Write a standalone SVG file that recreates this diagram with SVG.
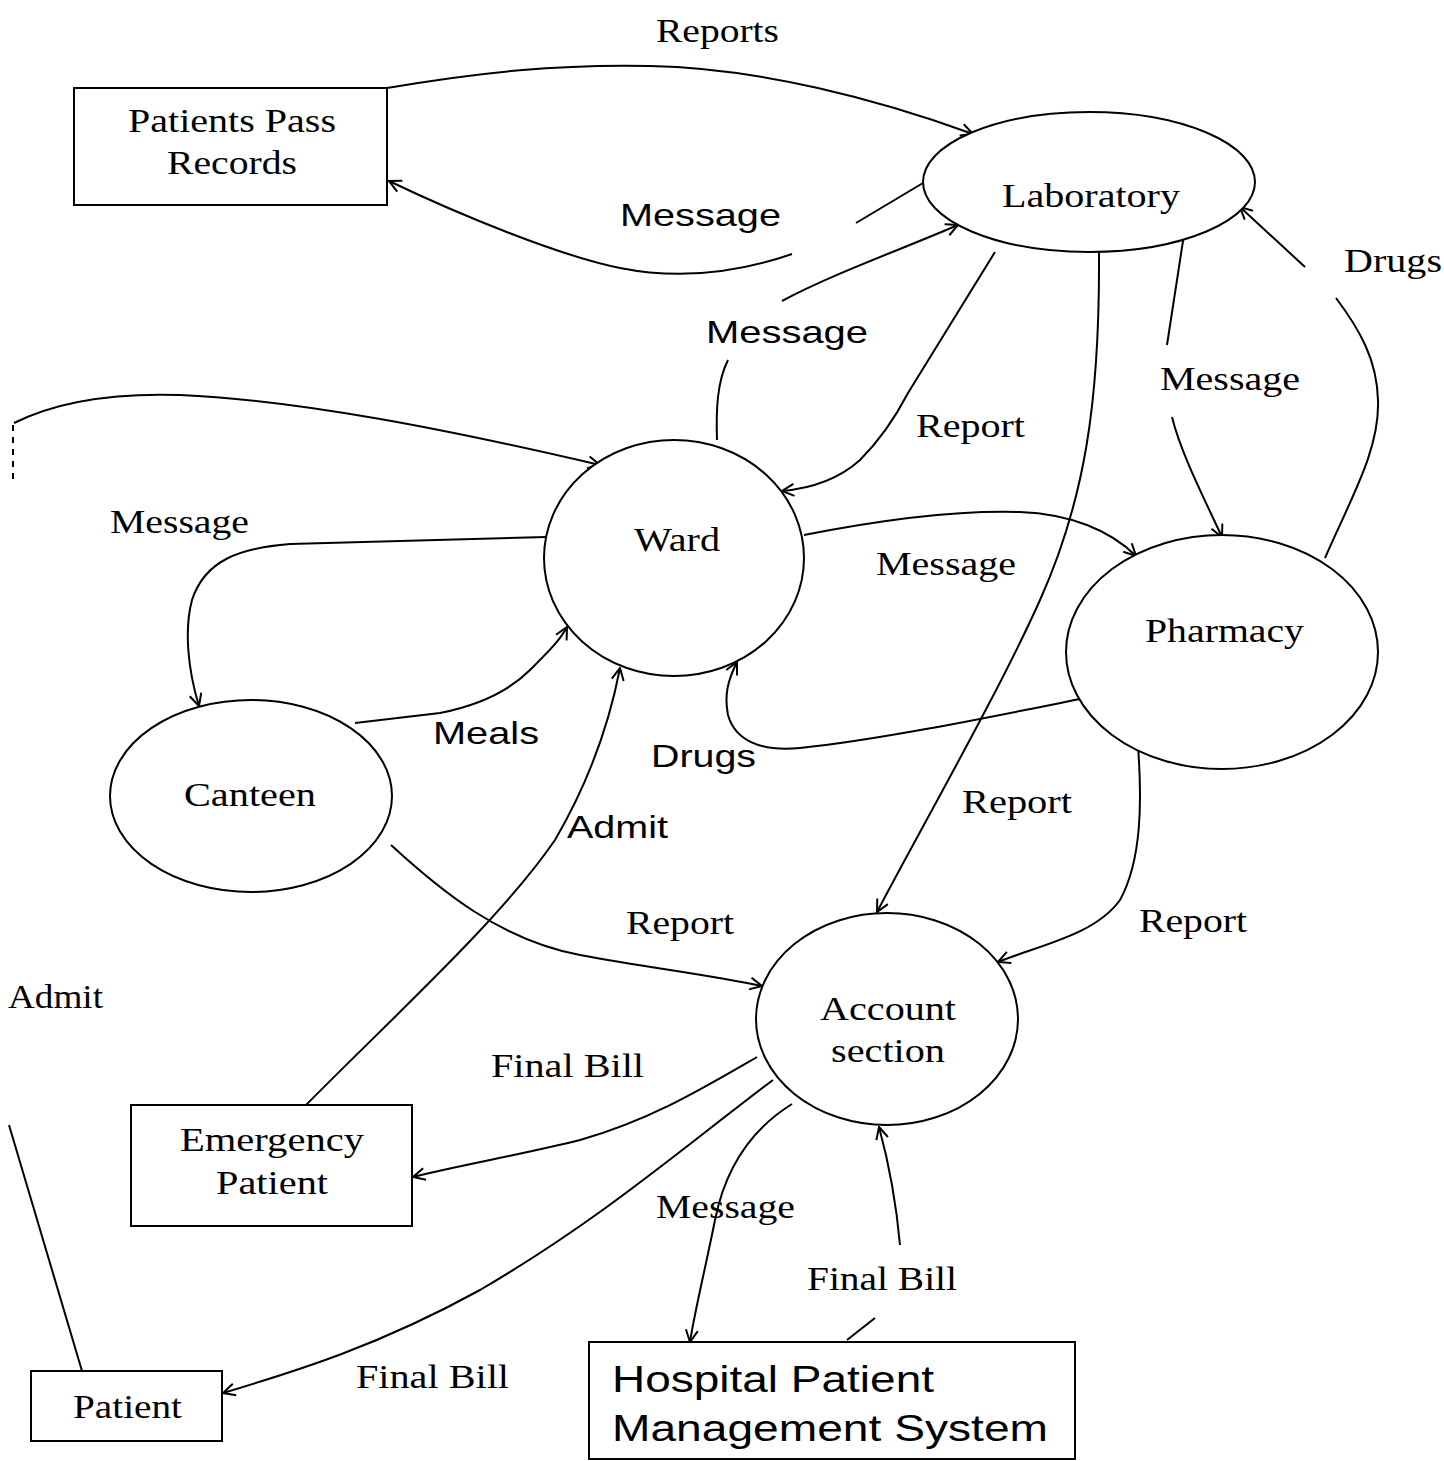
<svg xmlns="http://www.w3.org/2000/svg" width="1444" height="1461" viewBox="0 0 1444 1461">
<style>
.bg{fill:#fff}
.shape{fill:#fff;stroke:#000;stroke-width:2}
.conn path{fill:none;stroke:#000;stroke-width:2}
.serif{font-family:"Liberation Serif","Times New Roman",serif;font-size:34px;fill:#000}
.sans{font-family:"Liberation Sans",Arial,sans-serif;font-size:32px;fill:#000}
.big{font-family:"Liberation Sans",Arial,sans-serif;font-size:37px;fill:#000}
</style>
<defs>
<marker id="arr" viewBox="0 0 14 14" refX="13" refY="7" markerWidth="14" markerHeight="14" markerUnits="userSpaceOnUse" orient="auto">
<path d="M1,1 L13,7 L1,13" fill="none" stroke="#000" stroke-width="2"/>
</marker>
</defs>
<rect class="bg" x="0" y="0" width="1444" height="1461"/>

<g id="connectors" class="conn">
<path d="M387,88 C480,72 560,64 650,66 C760,68 880,100 973,134" marker-end="url(#arr)"/>
<path d="M923,183 L856,223"/>
<path d="M792,254 C740,272 680,280 620,268 C560,256 460,215 389,181" marker-end="url(#arr)"/>
<path d="M717,440 C716,410 717,382 728,360"/>
<path d="M782,301 C830,275 900,250 958,225" marker-end="url(#arr)"/>
<path d="M995,252 L908,393 C895,418 880,440 860,460 C840,478 815,488 782,491" marker-end="url(#arr)"/>
<path d="M1099,252 C1100,400 1085,500 1040,600 C1000,690 920,830 877,912" marker-end="url(#arr)"/>
<path d="M1185,228 L1167,345"/>
<path d="M1172,417 C1180,450 1200,490 1222,537" marker-end="url(#arr)"/>
<path d="M1325,558 C1350,500 1380,450 1378,400 C1377,360 1360,330 1336,298"/>
<path d="M1305,267 L1240,207" marker-end="url(#arr)"/>
<path d="M82,1371 L9,1125"/>
<path d="M13,425 L13,480" stroke-dasharray="6,6"/>
<path d="M14,423 C60,400 120,393 180,395 C300,400 450,430 600,465" marker-end="url(#arr)"/>
<path d="M546,537 L290,544 C240,548 205,560 192,600 C184,630 188,670 199,706" marker-end="url(#arr)"/>
<path d="M355,723 L440,713 C480,705 510,690 530,670 C550,650 560,640 567,627" marker-end="url(#arr)"/>
<path d="M306,1105 C400,1010 500,920 555,840 C590,780 610,720 620,668" marker-end="url(#arr)"/>
<path d="M804,535 C880,520 960,510 1020,512 C1070,514 1110,530 1136,556" marker-end="url(#arr)"/>
<path d="M1085,698 C1000,715 880,740 800,748 C760,752 735,740 728,715 C724,695 728,680 737,662" marker-end="url(#arr)"/>
<path d="M391,845 C440,890 500,940 580,955 C650,968 710,975 762,986" marker-end="url(#arr)"/>
<path d="M1138,746 C1142,800 1142,860 1120,900 C1095,935 1040,945 998,962" marker-end="url(#arr)"/>
<path d="M757,1057 C700,1090 650,1120 580,1140 C520,1155 460,1165 413,1177" marker-end="url(#arr)"/>
<path d="M773,1080 C680,1150 600,1220 480,1290 C380,1345 300,1370 223,1393" marker-end="url(#arr)"/>
<path d="M792,1104 C750,1130 725,1170 715,1220 C705,1270 695,1310 690,1342" marker-end="url(#arr)"/>
<path d="M847,1340 L875,1318"/>
<path d="M900,1245 C896,1200 888,1160 879,1127" marker-end="url(#arr)"/>
</g>

<g id="patients-pass-records">
<rect class="shape" x="74" y="88" width="313" height="117"/>
<text class="serif" x="128" y="132" textLength="208" lengthAdjust="spacingAndGlyphs">Patients Pass</text>
<text class="serif" x="167" y="174" textLength="130" lengthAdjust="spacingAndGlyphs">Records</text>
</g>
<g id="laboratory">
<ellipse class="shape" cx="1089" cy="182" rx="166" ry="70"/>
<text class="serif" x="1002" y="207" textLength="178" lengthAdjust="spacingAndGlyphs">Laboratory</text>
</g>
<g id="ward">
<ellipse class="shape" cx="674" cy="558" rx="130" ry="118"/>
<text class="serif" x="634" y="551" textLength="86" lengthAdjust="spacingAndGlyphs">Ward</text>
</g>
<g id="pharmacy">
<ellipse class="shape" cx="1222" cy="652" rx="156" ry="117"/>
<text class="serif" x="1145" y="642" textLength="159" lengthAdjust="spacingAndGlyphs">Pharmacy</text>
</g>
<g id="canteen">
<ellipse class="shape" cx="251" cy="796" rx="141" ry="96"/>
<text class="serif" x="184" y="806" textLength="132" lengthAdjust="spacingAndGlyphs">Canteen</text>
</g>
<g id="account-section">
<ellipse class="shape" cx="887" cy="1019" rx="131" ry="106"/>
<text class="serif" x="820" y="1020" textLength="136" lengthAdjust="spacingAndGlyphs">Account</text>
<text class="serif" x="831" y="1062" textLength="114" lengthAdjust="spacingAndGlyphs">section</text>
</g>
<g id="emergency-patient">
<rect class="shape" x="131" y="1105" width="281" height="121"/>
<text class="serif" x="180" y="1151" textLength="184" lengthAdjust="spacingAndGlyphs">Emergency</text>
<text class="serif" x="216" y="1194" textLength="112" lengthAdjust="spacingAndGlyphs">Patient</text>
</g>
<g id="patient">
<rect class="shape" x="31" y="1371" width="191" height="70"/>
<text class="serif" x="73" y="1418" textLength="109" lengthAdjust="spacingAndGlyphs">Patient</text>
</g>
<g id="hospital-patient-management-system">
<rect class="shape" x="589" y="1342" width="486" height="117"/>
<text class="big" x="612" y="1392" textLength="322" lengthAdjust="spacingAndGlyphs">Hospital Patient</text>
<text class="big" x="612" y="1441" textLength="436" lengthAdjust="spacingAndGlyphs">Management System</text>
</g>

<g id="labels">
<text class="serif" x="656" y="42" textLength="123" lengthAdjust="spacingAndGlyphs">Reports</text>
<text class="sans" x="620" y="226" textLength="161" lengthAdjust="spacingAndGlyphs">Message</text>
<text class="sans" x="706" y="343" textLength="162" lengthAdjust="spacingAndGlyphs">Message</text>
<text class="serif" x="1344" y="272" textLength="98" lengthAdjust="spacingAndGlyphs">Drugs</text>
<text class="serif" x="1160" y="390" textLength="140" lengthAdjust="spacingAndGlyphs">Message</text>
<text class="serif" x="916" y="437" textLength="109" lengthAdjust="spacingAndGlyphs">Report</text>
<text class="serif" x="110" y="533" textLength="139" lengthAdjust="spacingAndGlyphs">Message</text>
<text class="serif" x="876" y="575" textLength="140" lengthAdjust="spacingAndGlyphs">Message</text>
<text class="sans" x="433" y="744" textLength="106" lengthAdjust="spacingAndGlyphs">Meals</text>
<text class="sans" x="651" y="767" textLength="105" lengthAdjust="spacingAndGlyphs">Drugs</text>
<text class="sans" x="567" y="838" textLength="101" lengthAdjust="spacingAndGlyphs">Admit</text>
<text class="serif" x="962" y="813" textLength="110" lengthAdjust="spacingAndGlyphs">Report</text>
<text class="serif" x="626" y="934" textLength="108" lengthAdjust="spacingAndGlyphs">Report</text>
<text class="serif" x="1139" y="932" textLength="108" lengthAdjust="spacingAndGlyphs">Report</text>
<text class="serif" x="8" y="1008" textLength="95" lengthAdjust="spacingAndGlyphs">Admit</text>
<text class="serif" x="491" y="1077" textLength="153" lengthAdjust="spacingAndGlyphs">Final Bill</text>
<text class="serif" x="656" y="1218" textLength="139" lengthAdjust="spacingAndGlyphs">Message</text>
<text class="serif" x="807" y="1290" textLength="150" lengthAdjust="spacingAndGlyphs">Final Bill</text>
<text class="serif" x="356" y="1388" textLength="153" lengthAdjust="spacingAndGlyphs">Final Bill</text>
</g>
</svg>
